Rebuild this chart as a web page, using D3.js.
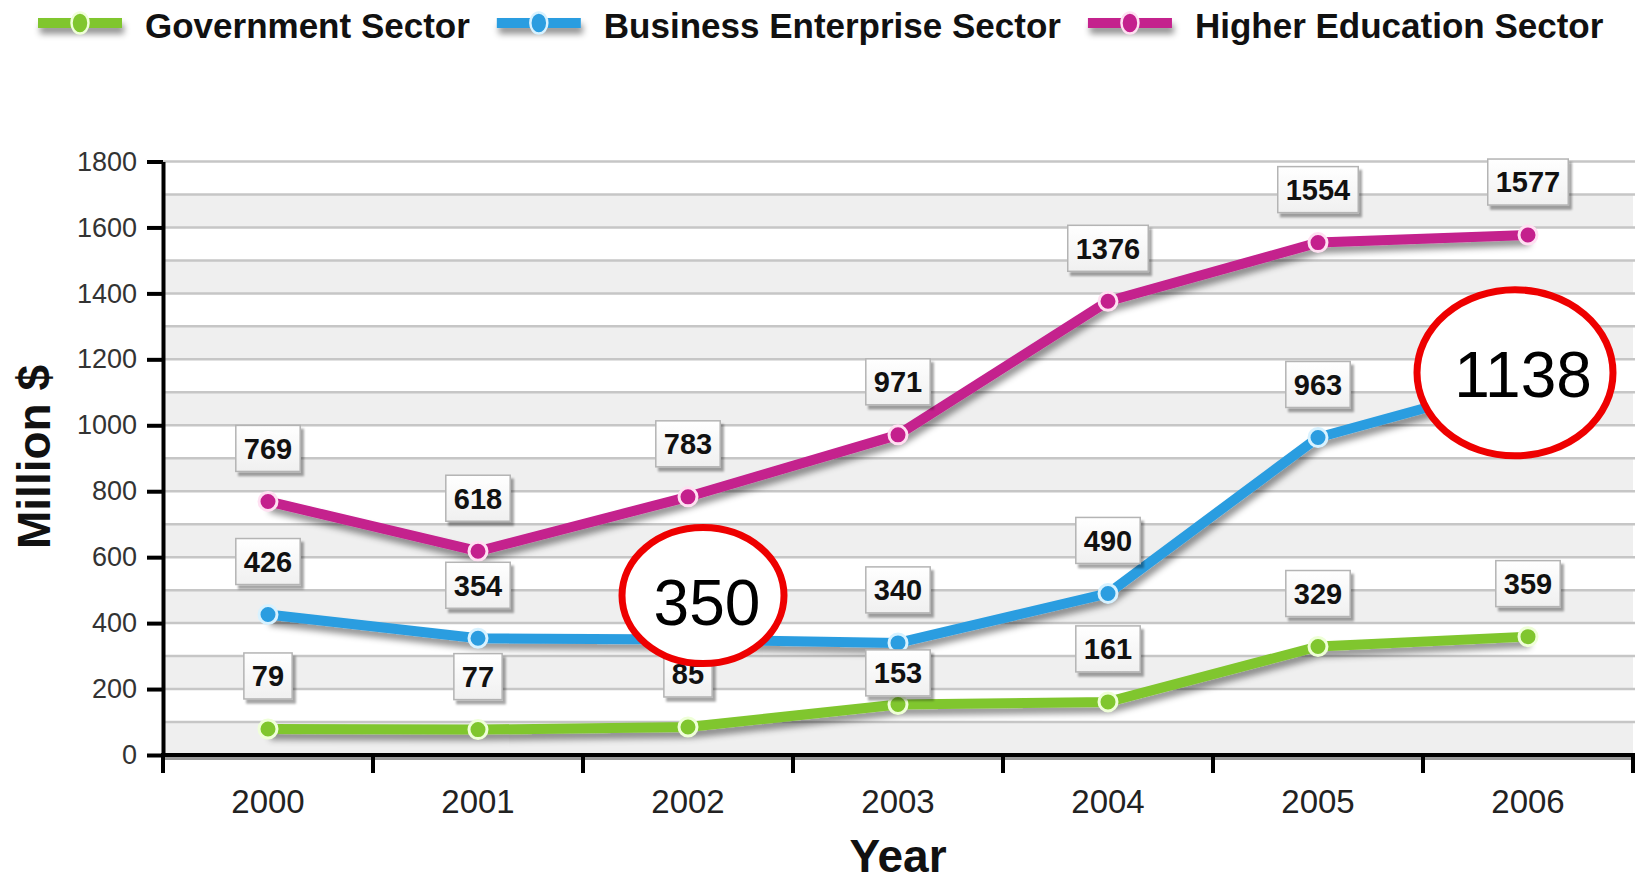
<!DOCTYPE html>
<html><head><meta charset="utf-8">
<script src="https://cdn.jsdelivr.net/npm/d3@7/dist/d3.min.js"></script>
<style>
body{margin:0;background:#fff}
svg{display:block}
text{font-family:"Liberation Sans",Arial,Helvetica,sans-serif}
</style>
</head><body>
<svg id="chart" width="1643" height="883"></svg>
<script>
// ---------- data ----------
const years = ["2000","2001","2002","2003","2004","2005","2006"];
const seriesNames = ["Government Sector","Business Enterprise Sector","Higher Education Sector"];
const government = [79,77,85,153,161,329,359];
const business = [426,354,350,340,490,963,1138];
const higherEducation = [769,618,783,971,1376,1554,1577];
const yTickValues = [0,200,400,600,800,1000,1200,1400,1600,1800];
const xTitle = "Year";
const yTitle = "Million $";
// highlighted (circled) values: series index + year
const highlights = [{series:1, year:"2002"},{series:1, year:"2006"}];

// ---------- styles / layout ----------
const colors = ["#80c62e","#2b9de0","#c4208d"];
const tints  = ["#efffd8","#d8f2ff","#ffe0f2"];
const highlightLayout = [{dx:15, dy:-44, rx:81, ry:68, tx:4, ty:29, fs:64},
                         {dx:-13, dy:-7, rx:98, ry:83, tx:8, ty:24, fs:64}];

const values = [government, business, higherEducation];
const svg = d3.select("#chart");
const W = 1643, H = 883;
const pL = 163, pR = 1633, pT = 161.5, pB = 755;

const defs = svg.append("defs");
const sh = defs.append("filter").attr("id","lineShadow").attr("filterUnits","userSpaceOnUse")
  .attr("x",0).attr("y",0).attr("width",W).attr("height",H);
sh.append("feDropShadow").attr("dx",2).attr("dy",6).attr("stdDeviation",3).attr("flood-color","#000").attr("flood-opacity",0.42);
const bs = defs.append("filter").attr("id","boxShadow").attr("x","-20%").attr("y","-20%").attr("width","150%").attr("height","160%");
bs.append("feDropShadow").attr("dx",3).attr("dy",4).attr("stdDeviation",1.2).attr("flood-color","#000").attr("flood-opacity",0.35);
const grad = defs.append("linearGradient").attr("id","boxGrad").attr("x1",0).attr("y1",0).attr("x2",0).attr("y2",1);
grad.append("stop").attr("offset","0%").attr("stop-color","#ffffff");
grad.append("stop").attr("offset","100%").attr("stop-color","#f0f0f0");

svg.append("rect").attr("width",W).attr("height",H).attr("fill","#fff");

const y = d3.scaleLinear().domain([0,1800]).range([pB, pT]);
const x = d3.scaleBand().domain(years).range([pL, pR]);
const xc = d => x(d) + x.bandwidth()/2;

// alternating bands
const minor = y.ticks(18);
svg.append("g").selectAll("rect").data(minor.filter(v => v < 1800 && (v/100)%2 === 0))
  .join("rect").attr("x",pL).attr("width",pR-pL)
  .attr("y",d=>y(d+100)).attr("height",d=>y(d)-y(d+100)).attr("fill","#efefef");
// gridlines
svg.append("g").selectAll("line").data(minor.filter(v=>v>0)).join("line")
  .attr("x1",pL).attr("x2",pR+2).attr("y1",d=>y(d)).attr("y2",d=>y(d))
  .attr("stroke","#c6c6c6").attr("stroke-width",2.5);

// y axis
const ya = svg.append("g").attr("transform",`translate(${pL},0)`)
  .call(d3.axisLeft(y).tickValues(yTickValues).tickFormat(d3.format("d"))
    .tickSize(16).tickSizeOuter(0).tickPadding(10));
ya.select(".domain").attr("stroke","#000").attr("stroke-width",4);
ya.selectAll(".tick line").attr("stroke","#000").attr("stroke-width",4);
ya.selectAll(".tick text").attr("font-size",27).attr("fill","#333").attr("font-family","Liberation Sans, Arial, sans-serif");

// x axis
const xa = svg.append("g").attr("transform",`translate(0,${pB})`)
  .call(d3.axisBottom(x).tickSize(0).tickPadding(35));
xa.select(".domain").remove();
xa.selectAll(".tick text").attr("font-size",33).attr("fill","#222").attr("font-family","Liberation Sans, Arial, sans-serif");
svg.append("line").attr("x1",pL-2).attr("x2",pR+2).attr("y1",pB).attr("y2",pB)
  .attr("stroke","#000").attr("stroke-width",4);
svg.append("line").attr("x1",pL).attr("x2",pR+2).attr("y1",pB+3.5).attr("y2",pB+3.5)
  .attr("stroke","#999").attr("stroke-width",3);
svg.append("g").selectAll("line").data(years.map(d=>x(d)).concat([x.range()[1]])).join("line")
  .attr("x1",d=>d).attr("x2",d=>d).attr("y1",pB).attr("y2",pB+18)
  .attr("stroke","#000").attr("stroke-width",4);

// axis titles
svg.append("text").attr("x",(pL+pR)/2).attr("y",872).attr("text-anchor","middle")
  .attr("font-size",46).attr("font-weight","bold").attr("fill","#111").text(xTitle);
svg.append("text").attr("transform","translate(50,457) rotate(-90)").attr("text-anchor","middle")
  .attr("font-size",46).attr("font-weight","bold").attr("fill","#111").text(yTitle);

// lines
const line = d3.line().x((d,i)=>xc(years[i])).y(d=>y(d));
const lg = svg.append("g");
values.forEach((vals,s)=>{
  lg.append("path").datum(vals).attr("d",line).attr("fill","none")
    .attr("stroke",colors[s]).attr("stroke-width",10).attr("stroke-linejoin","round")
    .attr("filter","url(#lineShadow)");
});
values.forEach((vals,s)=>{
  lg.append("g").selectAll("circle").data(vals).join("circle")
    .attr("cx",(d,i)=>xc(years[i])).attr("cy",d=>y(d)).attr("r",9)
    .attr("fill",colors[s]).attr("stroke",tints[s]).attr("stroke-width",3);
});

// value labels (labels hidden beneath the highlight ellipses are skipped)
const isHighlighted = (s,i) => highlights.some(h => h.series===s && h.year===years[i]);
const labG = svg.append("g");
const boxH = 46, gap = 30, fs = 29;
values.forEach((vals,s)=>{
  vals.forEach((v,i)=>{
    if (isHighlighted(s,i)) return;
    const cx = xc(years[i]), cy = y(v);
    let bottomY = cy - gap, topY = bottomY - boxH;
    // avoid covering another series' marker
    values.forEach((o,t)=>{
      if (t===s) return;
      const oy = y(o[i]);
      if (oy > topY && oy < bottomY) { topY = oy + 7; bottomY = topY + boxH; }
    });
    const g = labG.append("g");
    const txt = g.append("text").attr("x",cx).attr("y",topY + boxH/2 + fs*0.36)
      .attr("text-anchor","middle").attr("font-size",fs).attr("font-weight","bold")
      .attr("fill","#111").text(v);
    const tw = txt.node().getComputedTextLength();
    g.insert("rect","text").attr("x",cx - tw/2 - 8).attr("y",topY)
      .attr("width",tw+16).attr("height",boxH)
      .attr("fill","url(#boxGrad)").attr("stroke","#b4b4b4").attr("stroke-width",1.5)
      .attr("filter","url(#boxShadow)");
  });
});

// highlight ellipses
const hg = svg.append("g");
highlights.forEach((h,k)=>{
  const L = highlightLayout[k];
  const v = values[h.series][years.indexOf(h.year)];
  const cx = xc(h.year) + L.dx, cy = y(v) + L.dy;
  hg.append("ellipse").attr("cx",cx).attr("cy",cy).attr("rx",L.rx).attr("ry",L.ry)
    .attr("fill","#fff").attr("stroke","#ee0000").attr("stroke-width",7);
  hg.append("text").attr("x",cx+L.tx).attr("y",cy+L.ty).attr("text-anchor","middle")
    .attr("font-size",L.fs).attr("fill","#000").text(v);
});

// legend
const leg = svg.append("g");
let lx = 38;
const ly = 23;
seriesNames.forEach((name,s)=>{
  const g = leg.append("g");
  g.append("rect").attr("x",lx).attr("y",ly-5).attr("width",84).attr("height",10)
    .attr("fill",colors[s]).attr("filter","url(#lineShadow)");
  g.append("ellipse").attr("cx",lx+42).attr("cy",ly).attr("rx",8.5).attr("ry",10.5)
    .attr("fill",colors[s]).attr("stroke",tints[s]).attr("stroke-width",2.5);
  const t = g.append("text").attr("x",lx+107).attr("y",38).attr("font-size",35)
    .attr("font-weight","bold").attr("fill","#111").text(name);
  lx = lx + 107 + t.node().getComputedTextLength() + 27;
});
</script>
</body></html>
